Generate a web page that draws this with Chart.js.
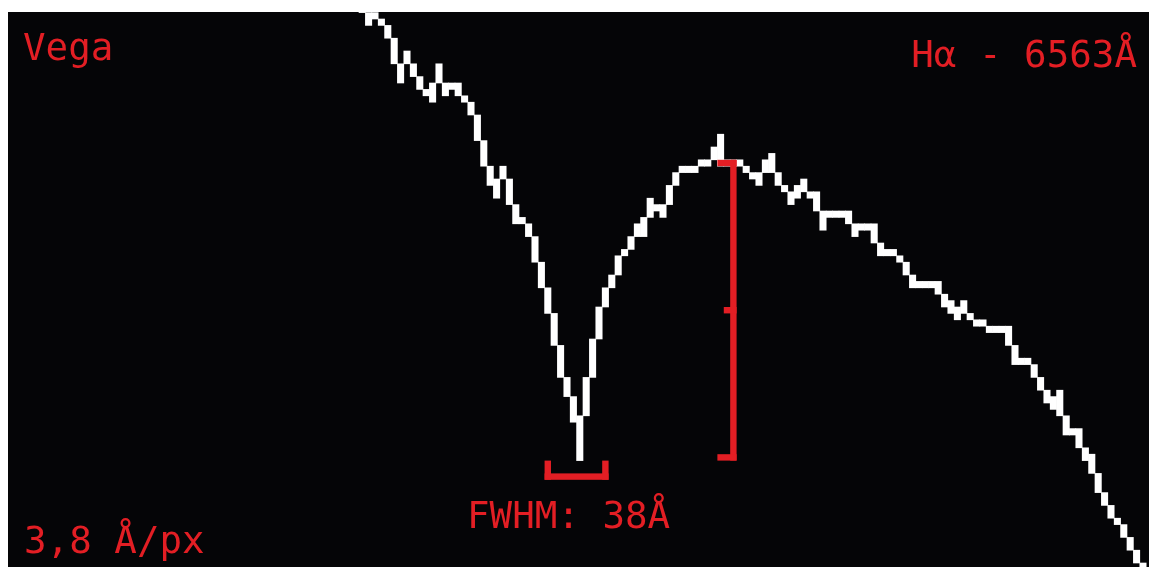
<!DOCTYPE html>
<html>
<head>
<meta charset="utf-8">
<title>Vega – Hα</title>
<script src="https://cdn.jsdelivr.net/npm/chart.js@4.4.1/dist/chart.umd.min.js"></script>
<style>
  html, body { margin: 0; background: #fff; }
  #wrap { position: relative; width: 1149px; height: 567px; overflow: hidden; }
  #spectrum { position: absolute; left: 8px; top: 12px; background: #050507; }
  .label {
    position: absolute;
    font-family: 'DejaVu Sans Mono', monospace;
    font-size: 37.5px;
    line-height: 38px;
    color: #e31e24;
    white-space: pre;
  }
</style>
</head>
<body>
<div id="wrap">
  <canvas id="spectrum" width="1141" height="555"></canvas>
  <div class="label" style="left:23px; top:28px;">Vega</div>
  <div class="label" style="right:12px; top:35px;">Hα - 6563Å</div>
  <div class="label" style="left:467px; top:496px;">FWHM: 38Å</div>
  <div class="label" style="left:24px; top:521px;">3,8 Å/px</div>
</div>
<script>
// Sensor columns of the trace (one entry per px), first visible column below
const firstColumn = 54;

// lit span of each column, in px levels counted up from the bottom row
const fluxHigh = [
  87, 86, 86, 85, 84, 82, 78, 80, 78, 76, 74, 75, 78, 75, 75, 75, 73, 72, 70, 66,
  62, 60, 62, 60, 56, 54, 53, 51, 47, 43, 39, 34, 29, 26, 23, 29, 35, 40, 43, 45,
  48, 49, 51, 53, 54, 57, 56, 56, 59, 61, 62, 62, 62, 63, 63, 65, 67, 63, 63, 63,
  62, 61, 61, 63, 64, 61, 59, 58, 59, 60, 58, 58, 55, 55, 55, 55, 55, 53, 53, 53,
  53, 50, 49, 49, 48, 47, 45, 44, 44, 44, 44, 42, 41, 40, 41, 39, 38, 38, 37, 37,
  37, 37, 34, 32, 32, 31, 29, 27, 26, 27, 23, 21, 21, 18, 17, 14, 11, 9, 7, 6,
  4, 2, 0
];
const fluxLow = [
  87, 85, 86, 85, 83, 79, 76, 79, 77, 75, 74, 73, 76, 74, 75, 74, 73, 71, 67, 63,
  60, 58, 61, 57, 54, 54, 52, 48, 44, 40, 35, 30, 27, 23, 17, 24, 30, 36, 41, 44,
  46, 49, 50, 52, 52, 55, 56, 55, 57, 60, 62, 62, 62, 63, 63, 64, 63, 63, 63, 63,
  62, 61, 60, 62, 62, 60, 59, 57, 58, 59, 58, 56, 53, 55, 55, 55, 54, 52, 53, 53,
  51, 49, 49, 49, 48, 46, 44, 44, 44, 44, 43, 41, 40, 39, 40, 39, 38, 38, 37, 37,
  37, 35, 32, 32, 32, 30, 28, 26, 25, 24, 21, 21, 19, 17, 15, 12, 10, 8, 7, 5,
  3, 1, 0
];

// line depth marker: continuum level down to the core, tick at half depth
const continuumLevel = 63;
const coreLevel = 17;
const depthColumn = 112;

// FWHM bracket under the core
const dispersion = 3.8;   // Å per px
const fwhmAngstrom = 38;
const fwhmStartColumn = 83;
const bracketLevel = 14;

const red = '#e31e24';

const points = fluxHigh.map((high, i) => ({
  x: firstColumn + i,
  y: [fluxLow[i] - 0.5, high + 0.5]
}));

// red markers drawn on the same px grid as the trace
const markerPlugin = {
  id: 'markers',
  afterDatasetsDraw(chart) {
    const { ctx, scales: { x, y } } = chart;
    const block = (col0, col1, lvl0, lvl1) => {
      const left = x.getPixelForValue(col0 - 0.5);
      const right = x.getPixelForValue(col1 + 0.5);
      const top = y.getPixelForValue(lvl1 + 0.5);
      const bottom = y.getPixelForValue(lvl0 - 0.5);
      ctx.fillRect(left, top, right - left, bottom - top);
    };

    ctx.save();
    ctx.fillStyle = red;

    const c = depthColumn;
    const half = (continuumLevel + coreLevel) / 2;
    block(c, c, coreLevel, continuumLevel);
    block(c - 2, c, continuumLevel, continuumLevel);
    block(c - 2, c, coreLevel, coreLevel);
    block(c - 1, c, half, half);

    const width = Math.round(fwhmAngstrom / dispersion);
    const end = fwhmStartColumn + width - 1;
    block(fwhmStartColumn, end, bracketLevel, bracketLevel);
    block(fwhmStartColumn, fwhmStartColumn, bracketLevel, bracketLevel + 2);
    block(end, end, bracketLevel, bracketLevel + 2);

    ctx.restore();
  }
};

new Chart(document.getElementById('spectrum'), {
  type: 'bar',
  data: {
    datasets: [{
      data: points,
      backgroundColor: '#ffffff',
      borderWidth: 0,
      barPercentage: 1,
      categoryPercentage: 1
    }]
  },
  options: {
    responsive: false,
    animation: false,
    devicePixelRatio: 1,
    layout: { padding: 0 },
    plugins: {
      legend: { display: false },
      tooltip: { enabled: false }
    },
    scales: {
      x: { type: 'linear', min: -1.344, max: 176.94, offset: false, display: false },
      y: { min: -0.125, max: 86.594, display: false }
    }
  },
  plugins: [markerPlugin]
});
</script>
</body>
</html>
